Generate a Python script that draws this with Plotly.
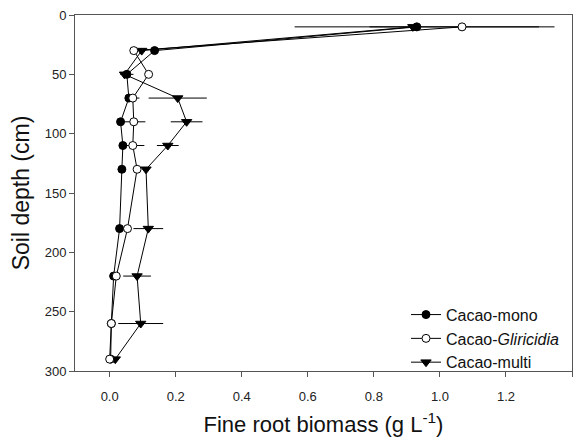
import plotly.graph_objects as go

depth = [10, 30, 50, 70, 90, 110, 130, 180, 220, 260, 290]

mono = [0.93, 0.136, 0.052, 0.058, 0.033, 0.040, 0.037, 0.030, 0.012, 0.005, 0.003]
mono_err = [0.37, 0.0, 0.02, 0.0, 0.0, 0.0, 0.0, 0.0, 0.0, 0.0, 0.0]

glir = [1.067, 0.073, 0.118, 0.070, 0.073, 0.070, 0.083, 0.054, 0.020, 0.005, 0.0]
glir_err = [0.28, 0.0, 0.0, 0.02, 0.035, 0.035, 0.0, 0.0, 0.0, 0.0, 0.0]

multi = [0.918, 0.097, 0.045, 0.206, 0.233, 0.176, 0.110, 0.117, 0.083, 0.094, 0.017]
multi_err = [0.0, 0.0, 0.0, 0.088, 0.048, 0.033, 0.0, 0.045, 0.042, 0.068, 0.0]

xticks = [0.0, 0.2, 0.4, 0.6, 0.8, 1.0, 1.2, 1.4]
yticks = [0, 50, 100, 150, 200, 250, 300]

ink = "black"
font = "Liberation Sans, Arial, sans-serif"


def err(arr):
    return dict(type="data", array=arr, visible=True, color=ink, thickness=1, width=0)


fig = go.Figure()
fig.add_trace(go.Scatter(
    x=multi, y=depth, name="Cacao-multi", mode="lines+markers", legendrank=3,
    line=dict(color=ink, width=1),
    marker=dict(symbol="triangle-down", size=9, color=ink, line=dict(color=ink, width=1)),
    error_x=err(multi_err)))
fig.add_trace(go.Scatter(
    x=mono, y=depth, name="Cacao-mono", mode="lines+markers", legendrank=1,
    line=dict(color=ink, width=1),
    marker=dict(symbol="circle", size=8, color=ink, line=dict(color=ink, width=1)),
    error_x=err(mono_err)))
fig.add_trace(go.Scatter(
    x=glir, y=depth, name="Cacao-<i>Gliricidia</i>", mode="lines+markers", legendrank=2,
    line=dict(color=ink, width=1),
    marker=dict(symbol="circle", size=8, color="white", line=dict(color=ink, width=1)),
    error_x=err(glir_err)))

axis_common = dict(showline=True, linecolor="#555", linewidth=1, mirror=True,
                   ticks="outside", ticklen=5, tickcolor="#555", showgrid=False,
                   zeroline=False, automargin=False,
                   tickfont=dict(size=13, color="#222", family=font))

fig.update_xaxes(range=[-0.105, 1.4], tickvals=xticks, tickformat=".1f",
                 ticklabelstandoff=8,
                 title=dict(text="Fine root biomass (g L<sup>-1</sup>)",
                            font=dict(size=22, color="#111", family=font), standoff=14),
                 **axis_common)
fig.update_yaxes(range=[300, 0], tickvals=yticks,
                 title=dict(text="Soil depth (cm)",
                            font=dict(size=23, color="#111", family=font), standoff=8),
                 **axis_common)

fig.update_layout(
    width=580, height=439,
    margin=dict(l=75, r=8, t=15, b=68),
    paper_bgcolor="white", plot_bgcolor="white",
    showlegend=True,
    legend=dict(x=0.666, y=0.206, xanchor="left", yanchor="top",
                bgcolor="rgba(0,0,0,0)", borderwidth=0,
                font=dict(size=16, color="#111", family=font),
                tracegroupgap=0, itemwidth=30),
    font=dict(family=font),
)

fig.write_html("out.html")
